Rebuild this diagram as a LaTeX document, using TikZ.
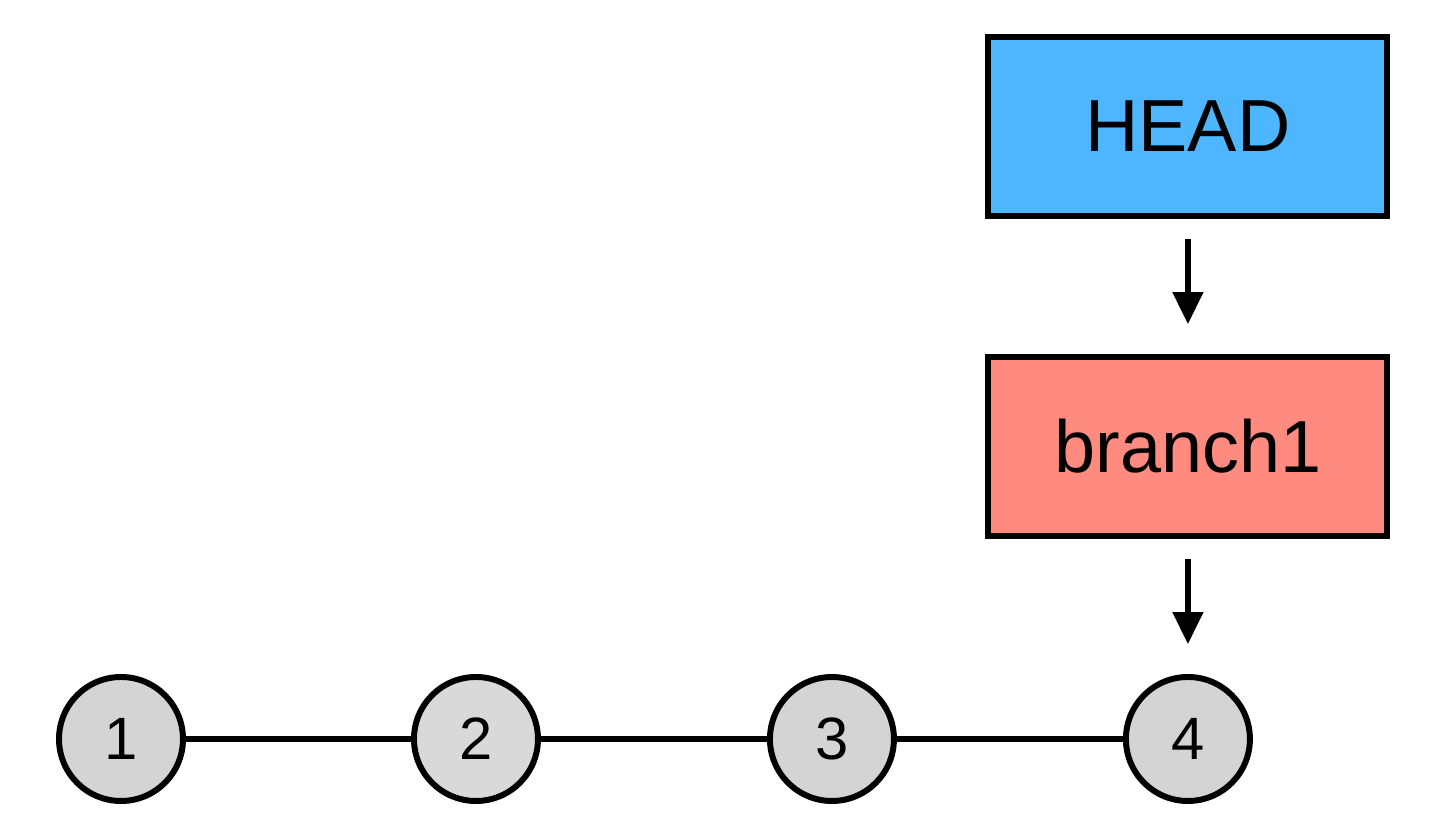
\documentclass[tikz,border=0pt]{standalone}
\usepackage{fontspec}
\setmainfont{Liberation Sans}
\usepackage{xcolor}
\usepackage{tikz}
\usetikzlibrary{arrows.meta, positioning}
\definecolor{headblue}{HTML}{4DB6FF}
\definecolor{branchred}{HTML}{FF8A80}
\definecolor{commitgray}{HTML}{D4D4D4}
\tikzstyle{pointer} = [rectangle, minimum width=3.99cm, minimum height=1.79cm, text centered, draw=black, line width=1.7pt, font=\fontsize{21}{24}\selectfont]
\tikzstyle{commit} = [circle, minimum size=1.24cm, inner sep=0pt, draw=black, line width=1.7pt, fill=commitgray, font=\fontsize{17}{19}\selectfont]
\tikzstyle{arrow} = [line width=1.5pt, -{Triangle[width=0.3cm,length=0.32cm]}, shorten <=0.2cm, shorten >=0.3cm]
\tikzstyle{link} = [line width=1.5pt]

\begin{document}
\begin{tikzpicture}[node distance=1.35cm]
            \useasboundingbox (0,0) rectangle (14.48,-8.38);
            \node[commit] (c1) at (1.21,-7.39) {1};
            \node[commit, fill=gray!30, right=2.25cm of c1] (c2) {2};
            \node[commit, right=2.26cm of c2] (c3) {3};
            \node[commit, right=2.26cm of c3] (c4) {4};
            \node[pointer, fill=branchred, above=of c4] (br) {branch1};
            \node[pointer, fill=headblue, above=of br] (head) {HEAD};

            \draw[link] (c1) -- (c2);
            \draw[link] (c2) -- (c3);
            \draw[link] (c3) -- (c4);
            \draw[arrow] (head) -- (br);
            \draw[arrow] (br) -- (c4);
        \end{tikzpicture}
\end{document}
